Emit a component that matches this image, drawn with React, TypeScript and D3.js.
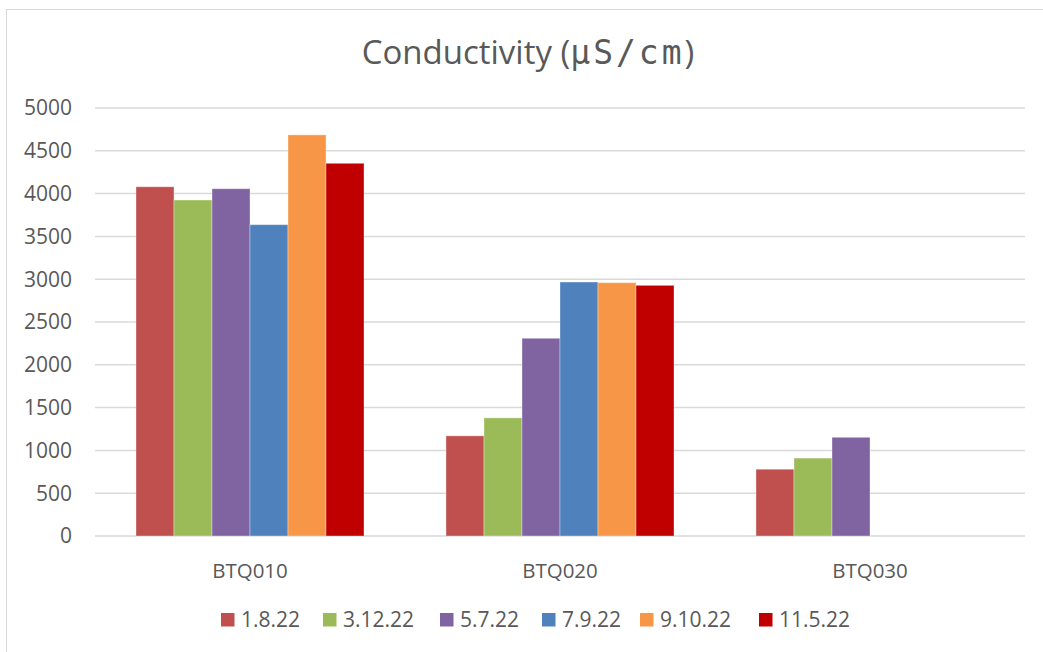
import React from "react";
import * as d3 from "d3";

const categories = ["BTQ010", "BTQ020", "BTQ030"];
const seriesNames = ["1.8.22", "3.12.22", "5.7.22", "7.9.22", "9.10.22", "11.5.22"];
const seriesColors = ["#C0504D", "#9BBB59", "#8064A2", "#4F81BD", "#F79646", "#C00000"];
// values per series, in category order (null = no sample)
const s1_8_22 = [4080, 1170, 780];
const s3_12_22 = [3925, 1380, 910];
const s5_7_22 = [4057, 2310, 1153];
const s7_9_22 = [3637, 2967, null];
const s9_10_22 = [4686, 2959, null];
const s11_5_22 = [4354, 2928, null];
const seriesValues = [s1_8_22, s3_12_22, s5_7_22, s7_9_22, s9_10_22, s11_5_22];
const yTicks = [0, 500, 1000, 1500, 2000, 2500, 3000, 3500, 4000, 4500, 5000];

const W = 1043;
const H = 652;
const plot = { left: 95, right: 1025, top: 108, bottom: 536 };
const textColor = "#595959";
const font = "'Open Sans', sans-serif";

export default function App() {
  const x0 = d3.scaleBand<string>().domain(categories).range([plot.left, plot.right]).paddingInner(0).paddingOuter(0);
  const groupWidth = 228;
  const x1 = d3.scaleBand<string>().domain(seriesNames).range([0, groupWidth]).padding(0);
  const y = d3.scaleLinear().domain([0, 5000]).range([plot.bottom, plot.top]);

  // legend layout
  const legendX = [221, 323, 440, 542, 640, 759];

  return (
    <svg width={W} height={H} style={{ position: "absolute", left: 0, top: 0, background: "#fff" }}>
      <rect x={6.5} y={9.5} width={W + 10} height={H + 10} fill="#fff" stroke="#d9d9d9" strokeWidth={1} />
      <text x={528} y={64} textAnchor="middle" fontFamily={font} fontSize={33} fill={textColor}>
        Conductivity (<tspan fontFamily="'DejaVu Sans Mono', monospace" letterSpacing={3}>μS/cm</tspan>)
      </text>
      {yTicks.map((t) => (
        <g key={t}>
          <line x1={plot.left} x2={plot.right} y1={y(t)} y2={y(t)} stroke="#d9d9d9" strokeWidth={1.5} />
          <text x={72} y={y(t)} dy="0.35em" textAnchor="end" fontFamily={font} fontSize={21} fill={textColor}>
            {t}
          </text>
        </g>
      ))}
      {categories.map((c, ci) => {
        const gx = x0(c)! + (x0.bandwidth() - groupWidth) / 2;
        return (
          <g key={c}>
            {seriesNames.map((s, si) => {
              const v = seriesValues[si][ci];
              if (v == null) return null;
              return (
                <rect
                  key={s}
                  x={gx + x1(s)!}
                  y={y(v)}
                  width={x1.bandwidth()}
                  height={y(0) - y(v)}
                  fill={seriesColors[si]}
                  stroke="#ffffff"
                  strokeOpacity={0.35}
                  strokeWidth={1}
                />
              );
            })}
            <text x={x0(c)! + x0.bandwidth() / 2} y={571} dy="0.35em" textAnchor="middle" fontFamily={font} fontSize={20.5} fill={textColor}>
              {c}
            </text>
          </g>
        );
      })}
      {seriesNames.map((s, si) => (
        <g key={s}>
          <rect x={legendX[si]} y={613} width={13.5} height={13.5} fill={seriesColors[si]} />
          <text x={legendX[si] + 20} y={620} dy="0.35em" fontFamily={font} fontSize={21} fill={textColor}>
            {s}
          </text>
        </g>
      ))}
    </svg>
  );
}
